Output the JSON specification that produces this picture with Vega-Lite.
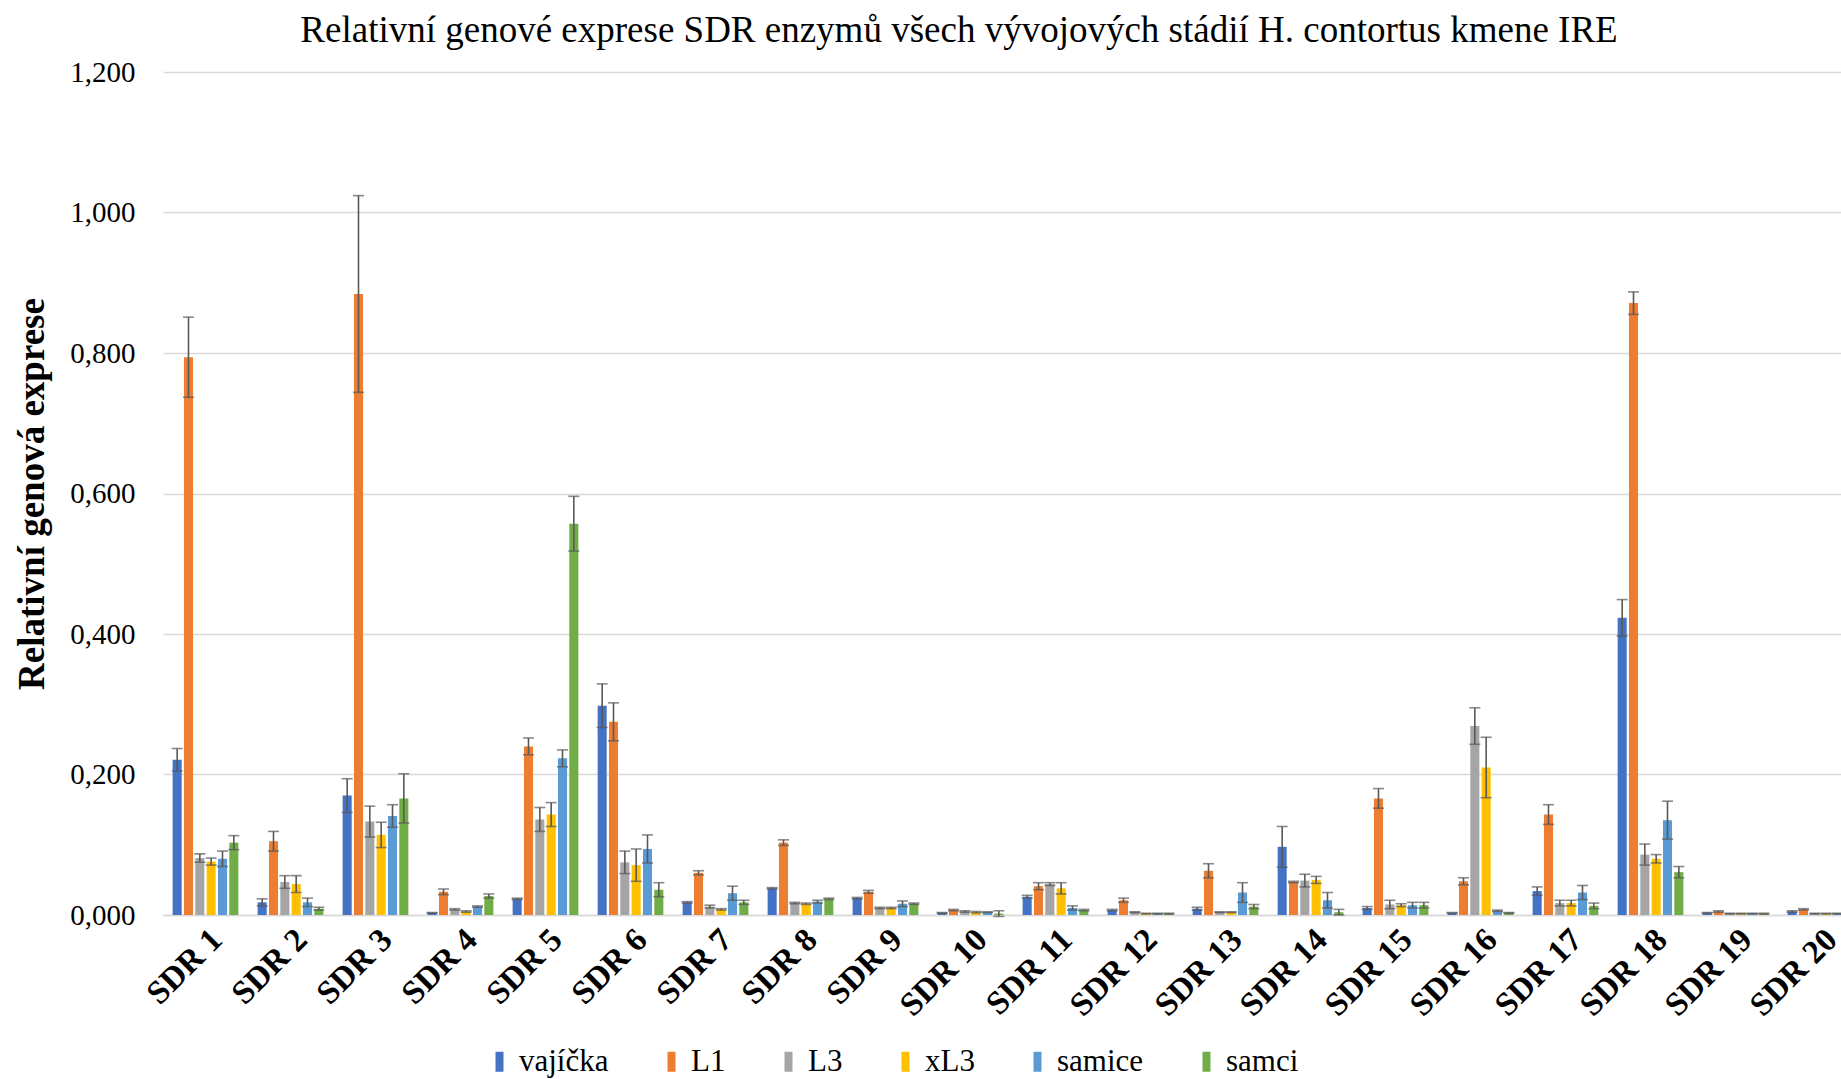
{
  "$schema": "https://vega.github.io/schema/vega-lite/v6.json",
  "autosize": {"type": "none"},
  "padding": {"left": 163, "top": 72, "right": 0, "bottom": 164},
  "width": 1700,
  "height": 843,
  "background": "white",
  "title": {
    "text": "Relativní genové exprese SDR enzymů všech vývojových stádií H. contortus kmene IRE",
    "font": "Liberation Serif",
    "fontSize": 37,
    "fontWeight": "normal",
    "color": "#000000",
    "anchor": "middle",
    "dx": -54,
    "dy": 51,
    "baseline": "alphabetic",
    "offset": 30
  },
  "config": {
    "view": {"stroke": null},
    "font": "Liberation Serif"
  },
  "data": {
    "values": [
      {"gene": "SDR 1", "stage": "vajíčka", "value": 0.221, "err": 0.016},
      {"gene": "SDR 1", "stage": "L1", "value": 0.794, "err": 0.057},
      {"gene": "SDR 1", "stage": "L3", "value": 0.081, "err": 0.006},
      {"gene": "SDR 1", "stage": "xL3", "value": 0.076, "err": 0.005},
      {"gene": "SDR 1", "stage": "samice", "value": 0.080, "err": 0.011},
      {"gene": "SDR 1", "stage": "samci", "value": 0.103, "err": 0.010},

      {"gene": "SDR 2", "stage": "vajíčka", "value": 0.018, "err": 0.005},
      {"gene": "SDR 2", "stage": "L1", "value": 0.105, "err": 0.014},
      {"gene": "SDR 2", "stage": "L3", "value": 0.047, "err": 0.009},
      {"gene": "SDR 2", "stage": "xL3", "value": 0.044, "err": 0.012},
      {"gene": "SDR 2", "stage": "samice", "value": 0.018, "err": 0.006},
      {"gene": "SDR 2", "stage": "samci", "value": 0.009, "err": 0.002},

      {"gene": "SDR 3", "stage": "vajíčka", "value": 0.170, "err": 0.024},
      {"gene": "SDR 3", "stage": "L1", "value": 0.884, "err": 0.140},
      {"gene": "SDR 3", "stage": "L3", "value": 0.133, "err": 0.022},
      {"gene": "SDR 3", "stage": "xL3", "value": 0.114, "err": 0.018},
      {"gene": "SDR 3", "stage": "samice", "value": 0.141, "err": 0.016},
      {"gene": "SDR 3", "stage": "samci", "value": 0.166, "err": 0.035},

      {"gene": "SDR 4", "stage": "vajíčka", "value": 0.003, "err": 0.0005},
      {"gene": "SDR 4", "stage": "L1", "value": 0.033, "err": 0.004},
      {"gene": "SDR 4", "stage": "L3", "value": 0.008, "err": 0.001},
      {"gene": "SDR 4", "stage": "xL3", "value": 0.005, "err": 0.001},
      {"gene": "SDR 4", "stage": "samice", "value": 0.012, "err": 0.001},
      {"gene": "SDR 4", "stage": "samci", "value": 0.027, "err": 0.003},

      {"gene": "SDR 5", "stage": "vajíčka", "value": 0.023, "err": 0.001},
      {"gene": "SDR 5", "stage": "L1", "value": 0.240, "err": 0.012},
      {"gene": "SDR 5", "stage": "L3", "value": 0.136, "err": 0.017},
      {"gene": "SDR 5", "stage": "xL3", "value": 0.143, "err": 0.017},
      {"gene": "SDR 5", "stage": "samice", "value": 0.223, "err": 0.012},
      {"gene": "SDR 5", "stage": "samci", "value": 0.557, "err": 0.039},

      {"gene": "SDR 6", "stage": "vajíčka", "value": 0.298, "err": 0.031},
      {"gene": "SDR 6", "stage": "L1", "value": 0.275, "err": 0.027},
      {"gene": "SDR 6", "stage": "L3", "value": 0.075, "err": 0.016},
      {"gene": "SDR 6", "stage": "xL3", "value": 0.071, "err": 0.023},
      {"gene": "SDR 6", "stage": "samice", "value": 0.094, "err": 0.020},
      {"gene": "SDR 6", "stage": "samci", "value": 0.036, "err": 0.010},

      {"gene": "SDR 7", "stage": "vajíčka", "value": 0.018, "err": 0.001},
      {"gene": "SDR 7", "stage": "L1", "value": 0.060, "err": 0.003},
      {"gene": "SDR 7", "stage": "L3", "value": 0.012, "err": 0.002},
      {"gene": "SDR 7", "stage": "xL3", "value": 0.008, "err": 0.001},
      {"gene": "SDR 7", "stage": "samice", "value": 0.031, "err": 0.010},
      {"gene": "SDR 7", "stage": "samci", "value": 0.018, "err": 0.003},

      {"gene": "SDR 8", "stage": "vajíčka", "value": 0.038, "err": 0.001},
      {"gene": "SDR 8", "stage": "L1", "value": 0.103, "err": 0.004},
      {"gene": "SDR 8", "stage": "L3", "value": 0.017, "err": 0.001},
      {"gene": "SDR 8", "stage": "xL3", "value": 0.016, "err": 0.001},
      {"gene": "SDR 8", "stage": "samice", "value": 0.019, "err": 0.002},
      {"gene": "SDR 8", "stage": "samci", "value": 0.023, "err": 0.001},

      {"gene": "SDR 9", "stage": "vajíčka", "value": 0.024, "err": 0.001},
      {"gene": "SDR 9", "stage": "L1", "value": 0.033, "err": 0.002},
      {"gene": "SDR 9", "stage": "L3", "value": 0.010, "err": 0.001},
      {"gene": "SDR 9", "stage": "xL3", "value": 0.010, "err": 0.001},
      {"gene": "SDR 9", "stage": "samice", "value": 0.016, "err": 0.004},
      {"gene": "SDR 9", "stage": "samci", "value": 0.016, "err": 0.001},

      {"gene": "SDR 10", "stage": "vajíčka", "value": 0.003, "err": 0.0005},
      {"gene": "SDR 10", "stage": "L1", "value": 0.007, "err": 0.001},
      {"gene": "SDR 10", "stage": "L3", "value": 0.005, "err": 0.001},
      {"gene": "SDR 10", "stage": "xL3", "value": 0.004, "err": 0.001},
      {"gene": "SDR 10", "stage": "samice", "value": 0.004, "err": 0.0005},
      {"gene": "SDR 10", "stage": "samci", "value": 0.002, "err": 0.004},

      {"gene": "SDR 11", "stage": "vajíčka", "value": 0.026, "err": 0.002},
      {"gene": "SDR 11", "stage": "L1", "value": 0.041, "err": 0.005},
      {"gene": "SDR 11", "stage": "L3", "value": 0.044, "err": 0.002},
      {"gene": "SDR 11", "stage": "xL3", "value": 0.038, "err": 0.008},
      {"gene": "SDR 11", "stage": "samice", "value": 0.010, "err": 0.003},
      {"gene": "SDR 11", "stage": "samci", "value": 0.007, "err": 0.001},

      {"gene": "SDR 12", "stage": "vajíčka", "value": 0.007, "err": 0.001},
      {"gene": "SDR 12", "stage": "L1", "value": 0.021, "err": 0.003},
      {"gene": "SDR 12", "stage": "L3", "value": 0.004, "err": 0.0005},
      {"gene": "SDR 12", "stage": "xL3", "value": 0.002, "err": 0.0005},
      {"gene": "SDR 12", "stage": "samice", "value": 0.002, "err": 0.0005},
      {"gene": "SDR 12", "stage": "samci", "value": 0.002, "err": 0.0005},

      {"gene": "SDR 13", "stage": "vajíčka", "value": 0.009, "err": 0.002},
      {"gene": "SDR 13", "stage": "L1", "value": 0.063, "err": 0.010},
      {"gene": "SDR 13", "stage": "L3", "value": 0.004, "err": 0.0005},
      {"gene": "SDR 13", "stage": "xL3", "value": 0.004, "err": 0.0005},
      {"gene": "SDR 13", "stage": "samice", "value": 0.032, "err": 0.014},
      {"gene": "SDR 13", "stage": "samci", "value": 0.012, "err": 0.003},

      {"gene": "SDR 14", "stage": "vajíčka", "value": 0.097, "err": 0.029},
      {"gene": "SDR 14", "stage": "L1", "value": 0.047, "err": 0.001},
      {"gene": "SDR 14", "stage": "L3", "value": 0.049, "err": 0.009},
      {"gene": "SDR 14", "stage": "xL3", "value": 0.050, "err": 0.005},
      {"gene": "SDR 14", "stage": "samice", "value": 0.021, "err": 0.011},
      {"gene": "SDR 14", "stage": "samci", "value": 0.004, "err": 0.004},

      {"gene": "SDR 15", "stage": "vajíčka", "value": 0.010, "err": 0.002},
      {"gene": "SDR 15", "stage": "L1", "value": 0.166, "err": 0.014},
      {"gene": "SDR 15", "stage": "L3", "value": 0.015, "err": 0.006},
      {"gene": "SDR 15", "stage": "xL3", "value": 0.014, "err": 0.002},
      {"gene": "SDR 15", "stage": "samice", "value": 0.014, "err": 0.004},
      {"gene": "SDR 15", "stage": "samci", "value": 0.014, "err": 0.004},

      {"gene": "SDR 16", "stage": "vajíčka", "value": 0.003, "err": 0.0005},
      {"gene": "SDR 16", "stage": "L1", "value": 0.048, "err": 0.005},
      {"gene": "SDR 16", "stage": "L3", "value": 0.269, "err": 0.026},
      {"gene": "SDR 16", "stage": "xL3", "value": 0.210, "err": 0.043},
      {"gene": "SDR 16", "stage": "samice", "value": 0.006, "err": 0.001},
      {"gene": "SDR 16", "stage": "samci", "value": 0.003, "err": 0.0005},

      {"gene": "SDR 17", "stage": "vajíčka", "value": 0.034, "err": 0.006},
      {"gene": "SDR 17", "stage": "L1", "value": 0.143, "err": 0.014},
      {"gene": "SDR 17", "stage": "L3", "value": 0.017, "err": 0.004},
      {"gene": "SDR 17", "stage": "xL3", "value": 0.017, "err": 0.004},
      {"gene": "SDR 17", "stage": "samice", "value": 0.032, "err": 0.010},
      {"gene": "SDR 17", "stage": "samci", "value": 0.013, "err": 0.004},

      {"gene": "SDR 18", "stage": "vajíčka", "value": 0.423, "err": 0.026},
      {"gene": "SDR 18", "stage": "L1", "value": 0.871, "err": 0.016},
      {"gene": "SDR 18", "stage": "L3", "value": 0.086, "err": 0.015},
      {"gene": "SDR 18", "stage": "xL3", "value": 0.080, "err": 0.006},
      {"gene": "SDR 18", "stage": "samice", "value": 0.135, "err": 0.027},
      {"gene": "SDR 18", "stage": "samci", "value": 0.061, "err": 0.008},

      {"gene": "SDR 19", "stage": "vajíčka", "value": 0.003, "err": 0.0005},
      {"gene": "SDR 19", "stage": "L1", "value": 0.005, "err": 0.001},
      {"gene": "SDR 19", "stage": "L3", "value": 0.002, "err": 0.0005},
      {"gene": "SDR 19", "stage": "xL3", "value": 0.002, "err": 0.0005},
      {"gene": "SDR 19", "stage": "samice", "value": 0.002, "err": 0.0005},
      {"gene": "SDR 19", "stage": "samci", "value": 0.002, "err": 0.0005},

      {"gene": "SDR 20", "stage": "vajíčka", "value": 0.005, "err": 0.001},
      {"gene": "SDR 20", "stage": "L1", "value": 0.008, "err": 0.001},
      {"gene": "SDR 20", "stage": "L3", "value": 0.002, "err": 0.0005},
      {"gene": "SDR 20", "stage": "xL3", "value": 0.002, "err": 0.0005},
      {"gene": "SDR 20", "stage": "samice", "value": 0.002, "err": 0.0005},
      {"gene": "SDR 20", "stage": "samci", "value": 0.002, "err": 0.0005}
    ]
  },
  "encoding": {
    "x": {
      "field": "gene",
      "type": "nominal",
      "sort": null,
      "scale": {"paddingInner": 0.2, "paddingOuter": 0.1},
      "axis": {
        "title": null,
        "labelAngle": -45,
        "labelFont": "Liberation Serif",
        "labelFontSize": 33,
        "labelFontWeight": "bold",
        "labelColor": "#000000",
        "labelPadding": 8,
        "ticks": false,
        "domainColor": "#D9D9D9",
        "domainWidth": 1.3,
        "grid": false
      }
    },
    "xOffset": {
      "field": "stage",
      "type": "nominal",
      "sort": ["vajíčka", "L1", "L3", "xL3", "samice", "samci"],
      "scale": {"paddingInner": 0.2, "paddingOuter": 0.1}
    }
  },
  "layer": [
    {
      "mark": {"type": "bar"},
      "encoding": {
        "y": {
          "field": "value",
          "type": "quantitative",
          "title": "Relativní genová exprese",
          "scale": {"domain": [0, 1.2], "nice": false},
          "axis": {
            "titleFont": "Liberation Serif",
            "titleFontSize": 37,
            "titleFontWeight": "bold",
            "titleColor": "#000000",
            "titlePadding": 18,
            "values": [0, 0.2, 0.4, 0.6, 0.8, 1.0, 1.2],
            "labelExpr": "replace(format(datum.value, '.3f'), '.', ',')",
            "labelFont": "Liberation Serif",
            "labelFontSize": 29,
            "labelColor": "#000000",
            "labelPadding": 28,
            "ticks": false,
            "domain": false,
            "grid": true,
            "gridColor": "#D9D9D9",
            "gridWidth": 1.3
          }
        },
        "color": {
          "field": "stage",
          "type": "nominal",
          "scale": {
            "domain": ["vajíčka", "L1", "L3", "xL3", "samice", "samci"],
            "range": ["#4472C4", "#ED7D31", "#A5A5A5", "#FFC000", "#5B9BD5", "#70AD47"]
          },
          "legend": {
            "title": null,
            "orient": "none",
            "direction": "horizontal",
            "legendX": 321,
            "legendY": 974,
            "symbolType": "M-0.4,-1H0.4V1H-0.4Z",
            "symbolSize": 400,
            "symbolStrokeWidth": 0,
            "labelFont": "Liberation Serif",
            "labelFontSize": 31,
            "labelColor": "#000000",
            "labelOffset": 4,
            "columnPadding": 47
          }
        }
      }
    },
    {
      "mark": {
        "type": "errorbar",
        "color": "#595959",
        "thickness": 1.6,
        "ticks": {"size": 11, "thickness": 1.6, "color": "#595959"}
      },
      "encoding": {
        "y": {"field": "value", "type": "quantitative", "title": "Relativní genová exprese"},
        "yError": {"field": "err"}
      }
    }
  ]
}
